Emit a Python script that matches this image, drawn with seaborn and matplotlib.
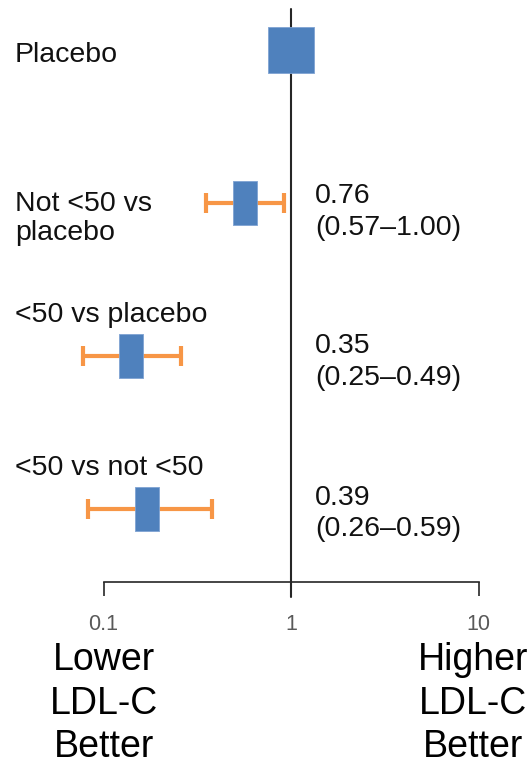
import numpy as np
import pandas as pd
import matplotlib.pyplot as plt
import seaborn as sns

# forest plot data
labels = ["Placebo", "Not <50 vs\nplacebo", "<50 vs placebo", "<50 vs not <50"]
est = [1.0, 0.57, 0.14, 0.17]
lo = [np.nan, 0.35, 0.078, 0.083]
hi = [np.nan, 0.92, 0.26, 0.38]
hr_text = ["", "0.76\n(0.57\u20131.00)", "0.35\n(0.25\u20130.49)", "0.39\n(0.26\u20130.59)"]
tick_vals = [0.1, 1, 10]
tick_labels = ["0.1", "1", "10"]

df = pd.DataFrame({"label": labels, "est": est, "lo": lo, "hi": hi, "row": range(len(labels))})

sns.set_style("white")
plt.rcParams["font.family"] = ["Liberation Sans", "DejaVu Sans"]

blue = "#4F81BD"
orange = "#F79646"

fig = plt.figure(figsize=(5.31, 7.64), dpi=100)
ax = fig.add_axes([0, 0, 1, 1])
ax.set_xscale("log")

# pixel layout: 1 at x=291, 187.5 px per decade; rows 153 px apart, first at y=50
ax.set_xlim(10 ** (-291 / 187.5), 10 ** ((531 - 291) / 187.5))
ax.set_ylim((764 - 50) / 153, -50 / 153)

# line of no effect
ax.plot([1, 1], [-0.268, 3.575], color="#262626", lw=1.5, zorder=1)

# confidence intervals
ci = df.dropna()
ax.errorbar(ci["est"], ci["row"], xerr=[ci["est"] - ci["lo"], ci["hi"] - ci["est"]],
            fmt="none", ecolor=orange, elinewidth=3, capsize=7, capthick=3, zorder=2)

# point estimates
rect = [(-0.27, -0.5), (0.27, -0.5), (0.27, 0.5), (-0.27, 0.5), (-0.27, -0.5)]
sns.scatterplot(data=df.iloc[1:], x="est", y="row", marker=rect, s=1010,
                color=blue, edgecolor="#7FA3D3", linewidth=0.6, ax=ax, zorder=3, legend=False)
sns.scatterplot(data=df.iloc[:1], x="est", y="row", marker="s", s=1090,
                color=blue, edgecolor="#7FA3D3", linewidth=0.6, ax=ax, zorder=3, legend=False)

# labels on the left and the values on the right
label_dy = [0.03, 0.1, -0.27, -0.265]
value_dy = [0, 0.06, 0.04, 0.03]
tr = ax.get_yaxis_transform()
for i, row in df.iterrows():
    ax.text(15 / 531, row["row"] + label_dy[i], row["label"], transform=tr,
            ha="left", va="center", fontsize=20.5, color="#111111", linespacing=1.15)
    if hr_text[i]:
        ax.text(315 / 531, row["row"] + value_dy[i], hr_text[i], transform=tr,
                ha="left", va="center", fontsize=20.5, color="#111111", linespacing=1.28)

# x axis
ax.set_xticks(tick_vals)
ax.set_xticklabels(tick_labels)
ax.xaxis.set_minor_locator(plt.NullLocator())
ax.tick_params(axis="x", direction="out", length=10, width=1.2, color="#262626",
               labelsize=15.5, labelcolor="#595959", pad=13, bottom=True)
ax.set_yticks([])
ax.set_xlabel("")
ax.set_ylabel("")
for s in ["top", "left", "right"]:
    ax.spines[s].set_visible(False)
ax.spines["bottom"].set_position(("data", 3.48))
ax.spines["bottom"].set_bounds(0.1, 10)
ax.spines["bottom"].set_color("#262626")
ax.spines["bottom"].set_linewidth(1.2)

ax.text(0.1, 3.87, "Lower\nLDL-C\nBetter", ha="center", va="top", fontsize=27,
        color="black", linespacing=1.27)
ax.text(528 / 531, 3.87, "Higher\nLDL-C\nBetter", transform=tr, ha="right", va="top",
        fontsize=27, color="black", linespacing=1.27, multialignment="center")

fig.savefig("out.png", dpi=100)
